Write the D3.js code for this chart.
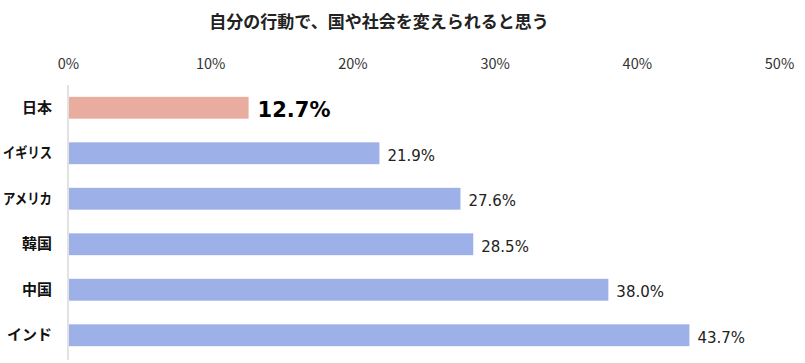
<!DOCTYPE html>
<html>
<head>
<meta charset="utf-8">
<script src="https://cdn.jsdelivr.net/npm/d3@7"></script>
<style>
  body { margin: 0; background: #fff; }
  text { font-family: "Noto Sans CJK JP", sans-serif; }
</style>
</head>
<body>
<div id="chart-area"></div>
<script>
const countries = ["日本", "イギリス", "アメリカ", "韓国", "中国", "インド"];
const values = [12.7, 21.9, 27.6, 28.5, 38.0, 43.7];
const tickValues = [0, 10, 20, 30, 40, 50];
const title = "自分の行動で、国や社会を変えられると思う";

let margin = {top: 85, right: 26, bottom: 5, left: 68},
  width = 805 - margin.left - margin.right,
  height = 363 - margin.top - margin.bottom;

let svg = d3.select("#chart-area")
  .append("svg")
  .attr("width", 805)
  .attr("height", 363)
  .append("g")
  .attr("transform", "translate(" + margin.left + "," + margin.top + ")");

let x = d3.scaleLinear().domain([0, 50]).range([0, 711]);
let y = d3.scaleBand().domain(countries).range([0, 273])
  .paddingInner(0.52).paddingOuter(0.26);

// title
svg.append("text")
  .attr("x", 379 - margin.left)
  .attr("y", 22 - margin.top)
  .attr("dy", "0.35em")
  .style("text-anchor", "middle")
  .style("font-weight", "bold")
  .style("font-size", "17px")
  .attr("fill", "#222")
  .text(title);

// top tick labels
let xAxis = d3.axisTop(x).tickValues(tickValues).tickFormat(d => d + "%").tickSize(0);
let xAxisGroup = svg.append("g")
  .attr("class", "x-axis")
  .attr("transform", "translate(0," + (64 - margin.top) + ")")
  .call(xAxis);
xAxisGroup.select(".domain").remove();
xAxisGroup.selectAll("text")
  .attr("y", 0)
  .attr("dy", "0.35em")
  .style("font-size", "14.5px")
  .attr("fill", "#333");

// vertical axis line
svg.append("line")
  .attr("x1", 0).attr("x2", 0)
  .attr("y1", 0).attr("y2", height + 2)
  .attr("stroke", "#d9d9d9")
  .attr("stroke-width", 1.5);

// category labels
let yAxis = d3.axisLeft(y).tickSize(0).tickPadding(16);
let yAxisGroup = svg.append("g").attr("class", "y-axis").call(yAxis);
yAxisGroup.select(".domain").remove();
yAxisGroup.selectAll("text")
  .style("font-size", "15px")
  .style("font-weight", "bold")
  .attr("fill", "#111")
  .each(function() {
    // the original font is narrow, squeeze long katakana labels
    if (this.getComputedTextLength() > 50) {
      d3.select(this).attr("textLength", 49).attr("lengthAdjust", "spacingAndGlyphs");
    }
  });

let data = countries.map((c, i) => ({country: c, value: values[i]}));

svg.selectAll(".bar")
  .data(data)
  .enter()
  .append("rect")
  .attr("class", "bar")
  .attr("x", 1)
  .attr("y", d => y(d.country))
  .attr("width", d => x(d.value) - 1)
  .attr("height", y.bandwidth())
  .attr("fill", d => d.country === "日本" ? "#e9ada0" : "#9db0e8");

svg.selectAll(".label")
  .data(data)
  .enter()
  .append("text")
  .attr("class", "label")
  .attr("x", d => x(d.value) + (d.country === "日本" ? 9 : 8))
  .attr("y", d => y(d.country) + y.bandwidth() / 2 + 2)
  .attr("dy", "0.35em")
  .style("font-family", "'DejaVu Sans', sans-serif")
  .style("font-size", d => d.country === "日本" ? "21px" : "15px")
  .style("font-weight", d => d.country === "日本" ? "bold" : "normal")
  .attr("fill", d => d.country === "日本" ? "#000" : "#222")
  .text(d => d.value.toFixed(1) + "%");
</script>
</body>
</html>
